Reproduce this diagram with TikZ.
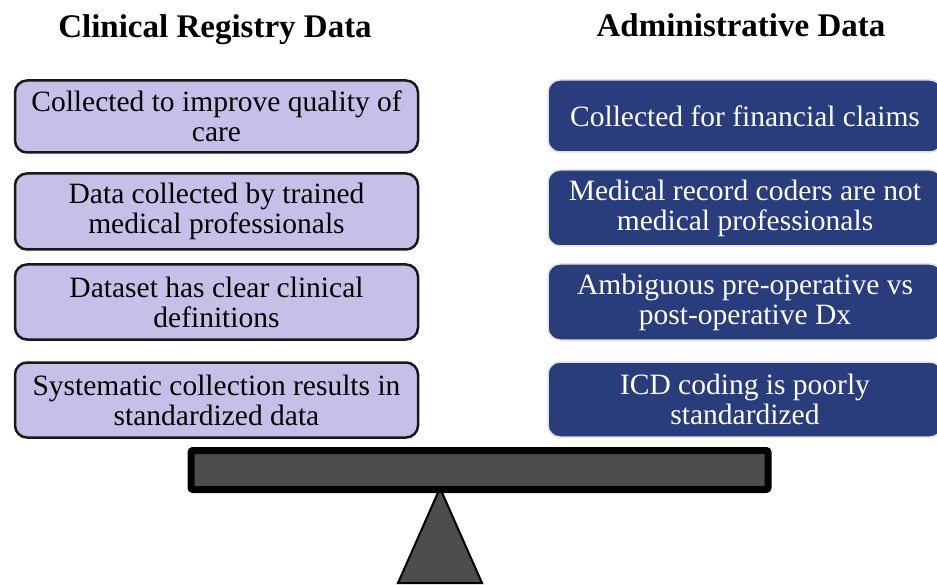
\documentclass[tikz,border=0pt]{standalone}
\usepackage{fontspec}
\setmainfont{Liberation Serif}
\usepackage{tikz}

\definecolor{lavender}{RGB}{198,192,232}
\definecolor{navy}{RGB}{41,60,124}
\definecolor{slab}{RGB}{77,77,77}

\begin{document}
\begin{tikzpicture}
  [x=1pt,y=-1pt,
   every node/.style={align=center,font=\fontsize{29.5}{30}\selectfont},
   title/.style={font=\fontsize{33}{36}\selectfont\bfseries},
   pro/.style={rectangle,rounded corners=12pt,fill=lavender,draw=black!90,line width=2.5pt,minimum width=403pt,inner sep=0pt},
   con/.style={rectangle,rounded corners=12pt,fill=navy,draw=black!12,line width=1.5pt,text=white,minimum width=394pt,inner sep=0pt}]
  \clip (0,0) rectangle (937,585);

  \node [title] (t1) at (215,30) {Clinical Registry Data};
  \node [title] (t2) at (741,25) {Administrative Data};

  % left column
  \node [pro,minimum height=72pt] (p1) at (216.5,116.5) {Collected to improve quality of\\care};
  \node [pro,minimum height=76pt] (p2) at (216.5,211.5) {Data collected by trained\\medical professionals};
  \node [pro,minimum height=75pt] (p3) at (216.5,302) {Dataset has clear clinical\\definitions};
  \node [pro,minimum height=75pt] (p4) at (216.5,400) {Systematic collection results in\\standardized data};

  % right column
  \node [con,minimum height=72pt] (c1) at (745,116) {Collected for financial claims};
  \node [con,minimum height=76pt] (c2) at (745,208) {Medical record coders are not\\medical professionals};
  \node [con,minimum height=76pt] (c3) at (745,302) {Ambiguous pre-operative vs\\post-operative Dx};
  \node [con,minimum height=75pt] (c4) at (745,399.5) {ICD coding is poorly\\standardized};

  % the scale
  \draw [fill=slab,line width=2pt,line join=miter] (440,488) -- (482,583) -- (398,583) -- cycle;
  \node [rectangle,fill=slab,draw=black,line width=7pt,rounded corners=2pt,minimum width=577pt,minimum height=39pt,inner sep=0pt] (beam) at (479.5,470) {};

\end{tikzpicture}
\end{document}
